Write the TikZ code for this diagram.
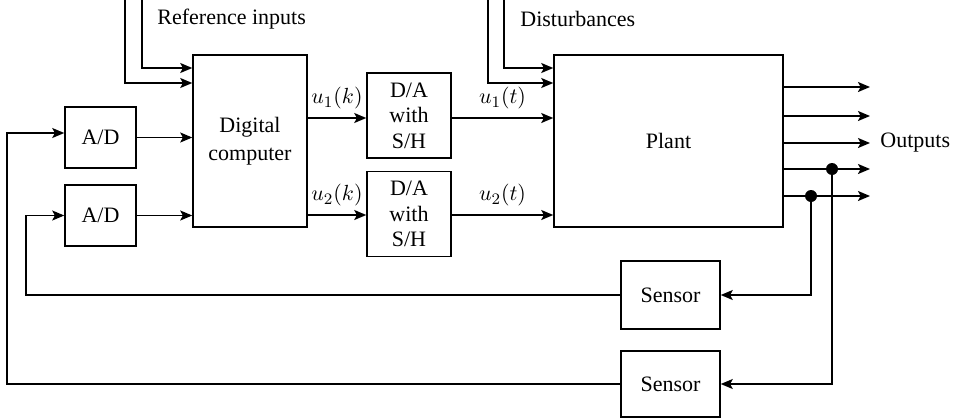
\documentclass[tikz,border=0pt]{standalone}
\usepackage{fontspec}
\setmainfont{Liberation Serif}
\usetikzlibrary{arrows.meta,calc}
\begin{document}
\begin{tikzpicture}[x=0.5pt,y=-0.5pt,
  every node/.style={font=\fontsize{11}{13}\selectfont},
  blk/.style={draw,line width=0.75pt,inner sep=0pt,align=center},
  ln/.style={line width=0.75pt},
  arr/.style={ln,-{Stealth[length=6pt,width=5pt,inset=1.3pt]}},
  lbl/.style={inner sep=0pt},
  dot/.style={fill=black}]
\useasboundingbox (0,0) rectangle (957,418);
% blocks
\node[blk,minimum width=57pt,minimum height=86pt,font=\fontsize{11}{14}\selectfont] (DC) at (250,141) {Digital\\computer};
\node[blk,minimum width=35.5pt,minimum height=30.5pt] (AD1) at (100.5,137.5) {A/D};
\node[blk,minimum width=35.5pt,minimum height=30.5pt] (AD2) at (100.5,215.5) {A/D};
\node[blk,minimum width=42pt,minimum height=42.5pt,font=\fontsize{11}{12.8}\selectfont] (DA1) at (409,115.5) {D/A\\with\\S/H};
\node[blk,minimum width=42pt,minimum height=42.5pt,font=\fontsize{11}{12.8}\selectfont] (DA2) at (409,214) {D/A\\with\\S/H};
\node[blk,minimum width=114.5pt,minimum height=86pt] (P) at (668.5,141) {Plant};
\node[blk,minimum width=49.5pt,minimum height=34pt] (S1) at (670.5,295) {Sensor};
\node[blk,minimum width=49.5pt,minimum height=33pt] (S2) at (670.5,384) {Sensor};
% helper coordinates
\coordinate (ya) at (0,68);
\coordinate (yb) at (0,83);
\coordinate (y1) at (0,118);
\coordinate (y2) at (0,215);
\coordinate (r1) at (125,0);
\coordinate (r2) at (142,0);
\coordinate (d1) at (488,0);
\coordinate (d2) at (504,0);
\coordinate (c1) at (7,0);
\coordinate (c2) at (26,0);
% labels
\node[lbl,anchor=west] (reft) at (157,19) {Reference inputs};
\node[lbl,anchor=west] (dist) at (520,19) {Disturbances};
% inputs
\draw[arr] (r2) |- (DC.west |- ya);
\draw[arr] (r1) |- (DC.west |- yb);
\draw[arr] (d2) |- (P.west |- ya);
\draw[arr] (d1) |- (P.west |- yb);
% A/D to computer
\draw[arr] (AD1.east) -- (AD1.east -| DC.west);
\draw[arr] (AD2.east) -- (AD2.east -| DC.west);
% computer to D/A
\draw[arr] (DC.east |- y1) -- node[lbl,above=4pt] (u1k) {$u_1(k)$} (DA1.west |- y1);
\draw[arr] (DC.east |- y2) -- node[lbl,above=4pt] (u2k) {$u_2(k)$} (DA2.west |- y2);
% D/A to plant
\draw[arr] (DA1.east |- y1) -- node[lbl,above=4pt] (u1t) {$u_1(t)$} (P.west |- y1);
\draw[arr] (DA2.east |- y2) -- node[lbl,above=4pt] (u2t) {$u_2(t)$} (P.west |- y2);
% outputs
\foreach \i/\yy in {1/87,2/116,3/143,4/169,5/196}{
  \coordinate (o\i) at (870,\yy);
  \draw[arr] (P.east |- o\i) -- (o\i);
}
\node[lbl,anchor=west] (outs) at (880,143) {Outputs};
% junctions
\coordinate (j1) at (832,169);
\coordinate (j2) at (811,196);
\fill[dot] (j1) circle (3pt);
\fill[dot] (j2) circle (3pt);
\draw[arr] (j2) |- (S1.east);
\draw[arr] (j1) |- (S2.east);
% feedback
\draw[arr] (S1.west) -- (S1.west -| c2) -- (AD2.west -| c2) -- (AD2.west);
\draw[arr] (S2.west) -- (S2.west -| c1) -- ([yshift=2.25pt]AD1.west -| c1) -- ([yshift=2.25pt]AD1.west);
\end{tikzpicture}
\end{document}
